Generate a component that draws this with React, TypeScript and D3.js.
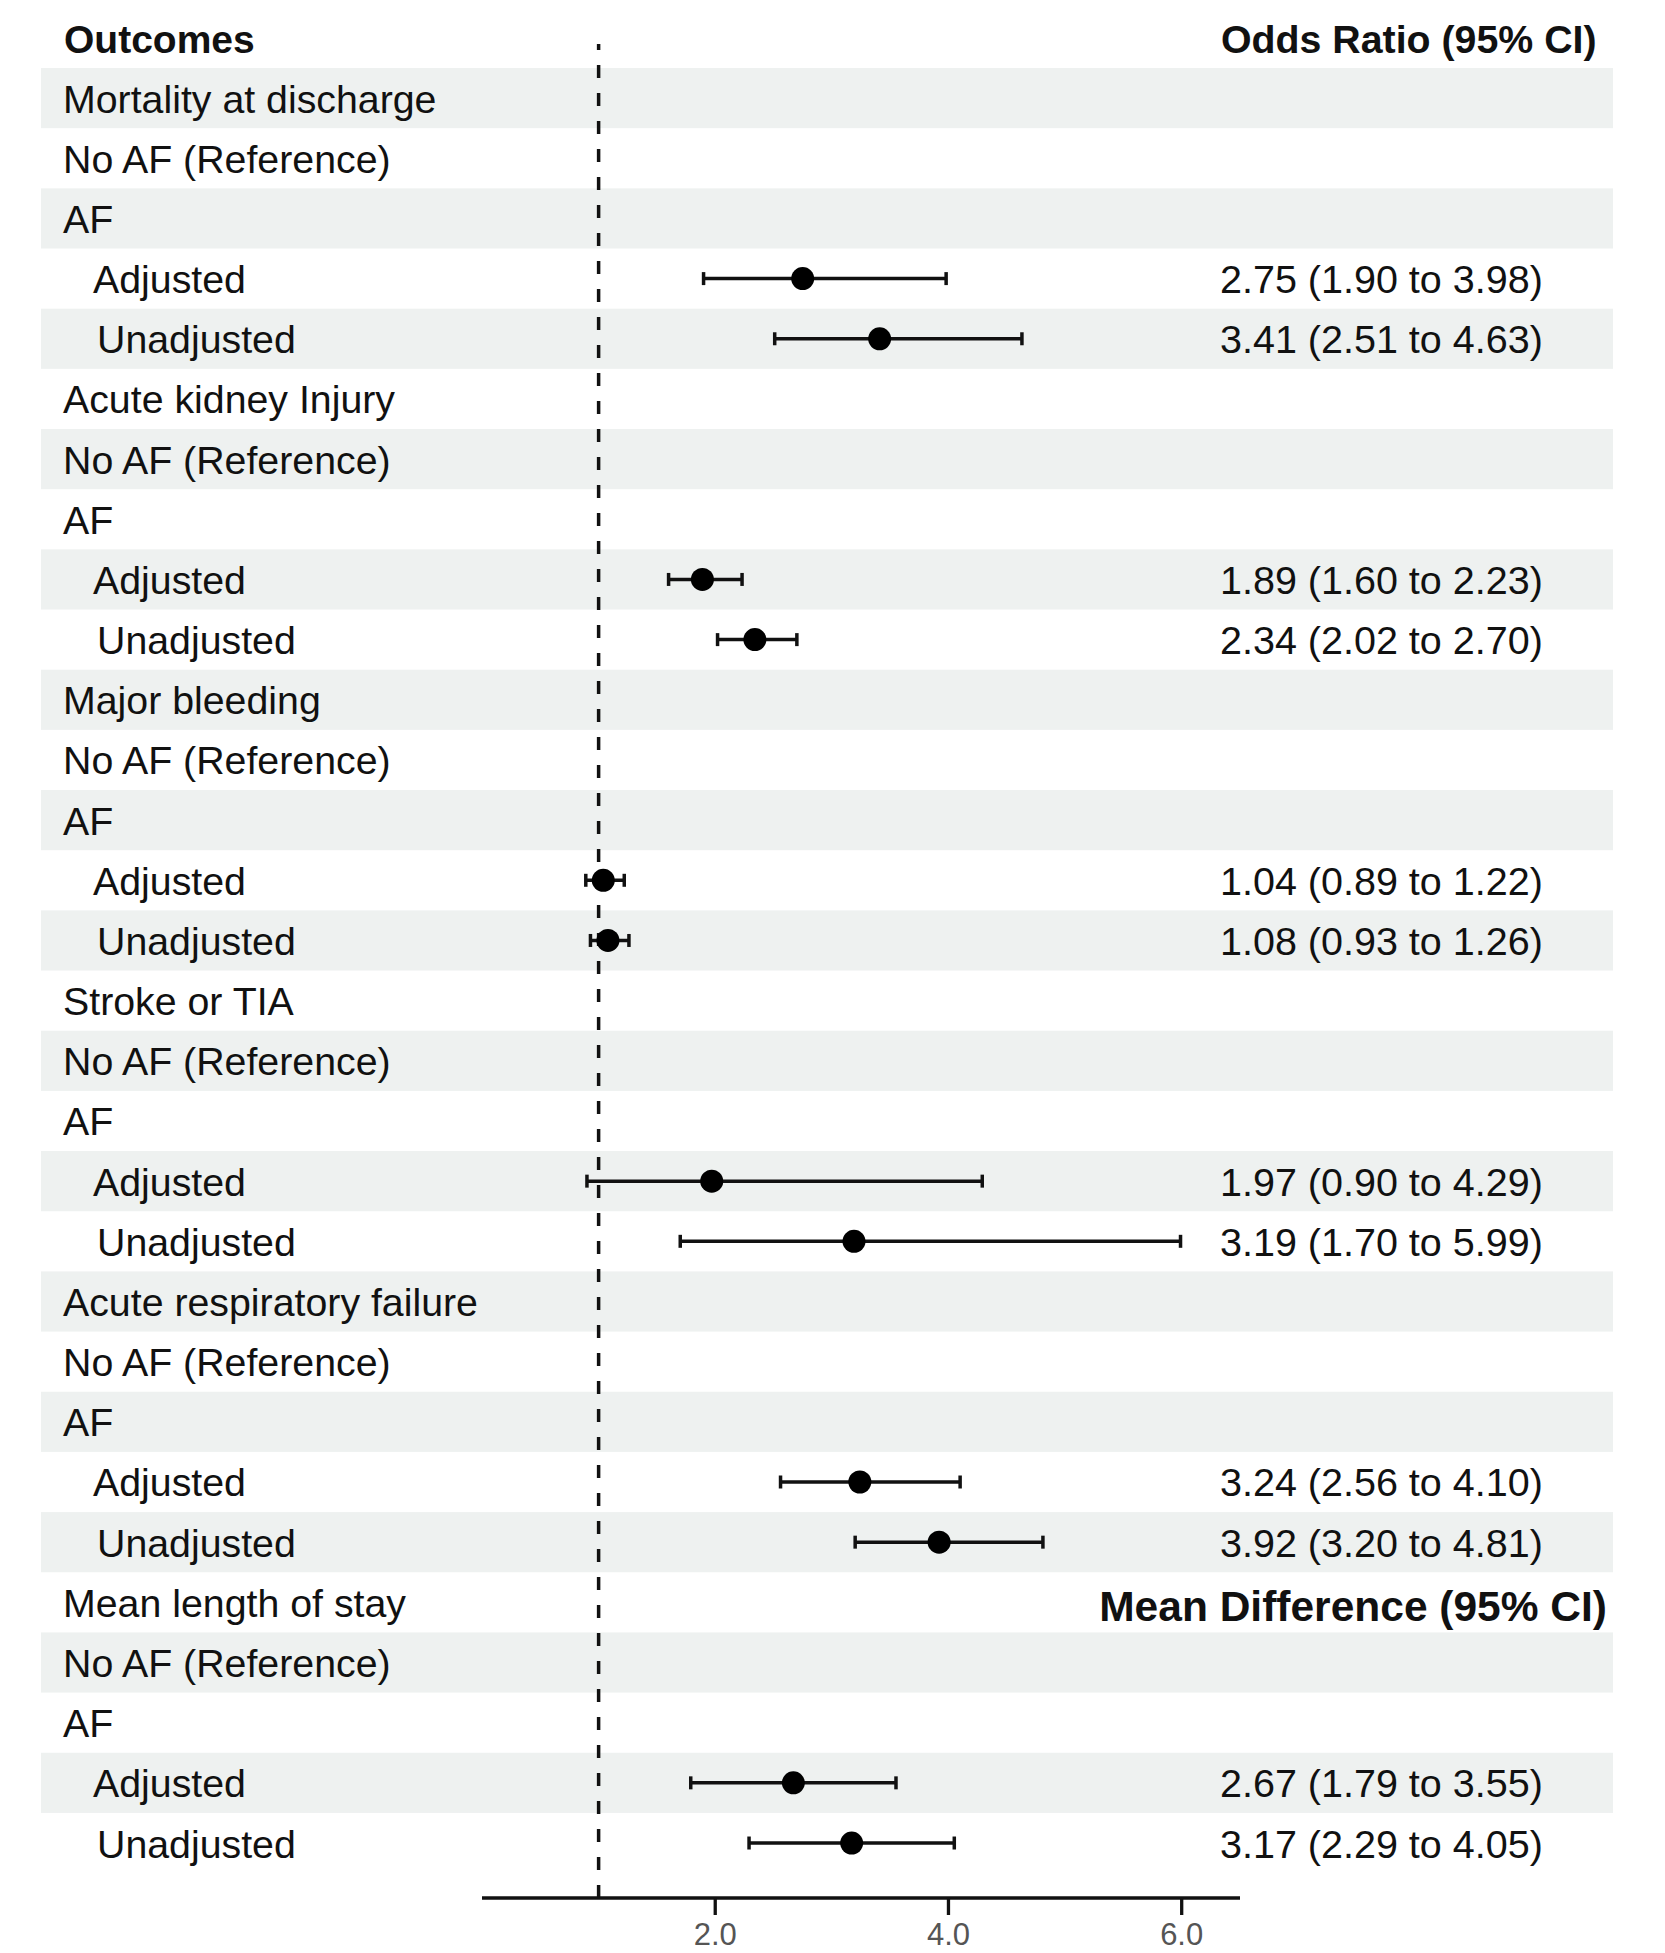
import { useEffect } from "react";
import * as d3 from "d3";

const outcomes = [
  "Mortality at discharge",
  "Acute kidney Injury",
  "Major bleeding",
  "Stroke or TIA",
  "Acute respiratory failure",
  "Mean length of stay",
];
const subRows = ["No AF (Reference)", "AF", "Adjusted", "Unadjusted"];

const adjEst = [2.75, 1.89, 1.04, 1.97, 3.24, 2.67];
const adjLo = [1.9, 1.6, 0.89, 0.9, 2.56, 1.79];
const adjHi = [3.98, 2.23, 1.22, 4.29, 4.1, 3.55];
const unadjEst = [3.41, 2.34, 1.08, 3.19, 3.92, 3.17];
const unadjLo = [2.51, 2.02, 0.93, 1.7, 3.2, 2.29];
const unadjHi = [4.63, 2.7, 1.26, 5.99, 4.81, 4.05];

const xTicks = [2, 4, 6];
const refValue = 1;

type Row = {
  label: string;
  indent: number;
  est?: number;
  lo?: number;
  hi?: number;
};

const W = 1665;
const H = 1953;
const FONT = "'Liberation Sans', Arial, Helvetica, sans-serif";

function buildRows(): Row[] {
  const rows: Row[] = [];
  outcomes.forEach((o, i) => {
    rows.push({ label: o, indent: 0 });
    rows.push({ label: subRows[0], indent: 0 });
    rows.push({ label: subRows[1], indent: 0 });
    rows.push({ label: subRows[2], indent: 30, est: adjEst[i], lo: adjLo[i], hi: adjHi[i] });
    rows.push({ label: subRows[3], indent: 34, est: unadjEst[i], lo: unadjLo[i], hi: unadjHi[i] });
  });
  return rows;
}

const fmt = d3.format(".2f");

export default function App() {
  useEffect(() => {
    document.body.style.margin = "0";
  }, []);

  const rows = buildRows();
  const y = d3
    .scaleBand<number>()
    .domain(d3.range(rows.length))
    .range([68, 68 + 60.17 * rows.length]);
  const x = d3.scaleLinear().domain([0, 6.5]).range([482, 1240]);
  const axisY = 1898;
  const capH = 6.5;

  return (
    <svg width={W} height={H} style={{ display: "block" }} fontFamily={FONT}>
      <rect width={W} height={H} fill="#ffffff" />
      {rows.map((r, i) =>
        i % 2 === 0 ? (
          <rect
            key={"bg" + i}
            x={41}
            y={y(i)!}
            width={1572}
            height={y.bandwidth()}
            fill="#eef1f0"
          />
        ) : null,
      )}

      {/* header */}
      <text x={64} y={53} fontSize={39} fontWeight="bold" fill="#111">
        Outcomes
      </text>
      <text x={1221} y={53} fontSize={39.3} fontWeight="bold" fill="#111">
        Odds Ratio (95% CI)
      </text>

      {/* reference line */}
      <line
        x1={x(refValue)}
        x2={x(refValue)}
        y1={44}
        y2={axisY}
        stroke="#111"
        strokeWidth={3.5}
        strokeDasharray="13 15"
        strokeDashoffset={7}
      />

      {rows.map((r, i) => {
        const cy = y(i)! + y.bandwidth() / 2;
        return (
          <g key={"row" + i}>
            <text x={63 + r.indent} y={cy + 14.5} fontSize={39.3} fill="#111">
              {r.label}
            </text>
            {r.est !== undefined && (
              <g>
                <line x1={x(r.lo!)} x2={x(r.hi!)} y1={cy} y2={cy} stroke="#111" strokeWidth={3.5} />
                <line x1={x(r.lo!)} x2={x(r.lo!)} y1={cy - capH} y2={cy + capH} stroke="#111" strokeWidth={3.5} />
                <line x1={x(r.hi!)} x2={x(r.hi!)} y1={cy - capH} y2={cy + capH} stroke="#111" strokeWidth={3.5} />
                <circle cx={x(r.est)} cy={cy} r={11.5} fill="#000" />
                <text x={1220} y={cy + 14.5} fontSize={39.5} fill="#111">
                  {`${fmt(r.est)} (${fmt(r.lo!)} to ${fmt(r.hi!)})`}
                </text>
              </g>
            )}
          </g>
        );
      })}

      {/* second header on Mean length of stay row */}
      <text
        x={1607}
        y={y(25)! + y.bandwidth() / 2 + 19}
        fontSize={42.5}
        fontWeight="bold"
        fill="#111"
        textAnchor="end"
      >
        Mean Difference (95% CI)
      </text>

      {/* x axis */}
      <line x1={x(0)} x2={x(6.5)} y1={axisY} y2={axisY} stroke="#111" strokeWidth={3.3} />
      {xTicks.map((t) => (
        <g key={"t" + t}>
          <line x1={x(t)} x2={x(t)} y1={axisY} y2={axisY + 17} stroke="#111" strokeWidth={3.3} />
          <text x={x(t)} y={1945} fontSize={31} fill="#555" textAnchor="middle">
            {d3.format(".1f")(t)}
          </text>
        </g>
      ))}
    </svg>
  );
}
